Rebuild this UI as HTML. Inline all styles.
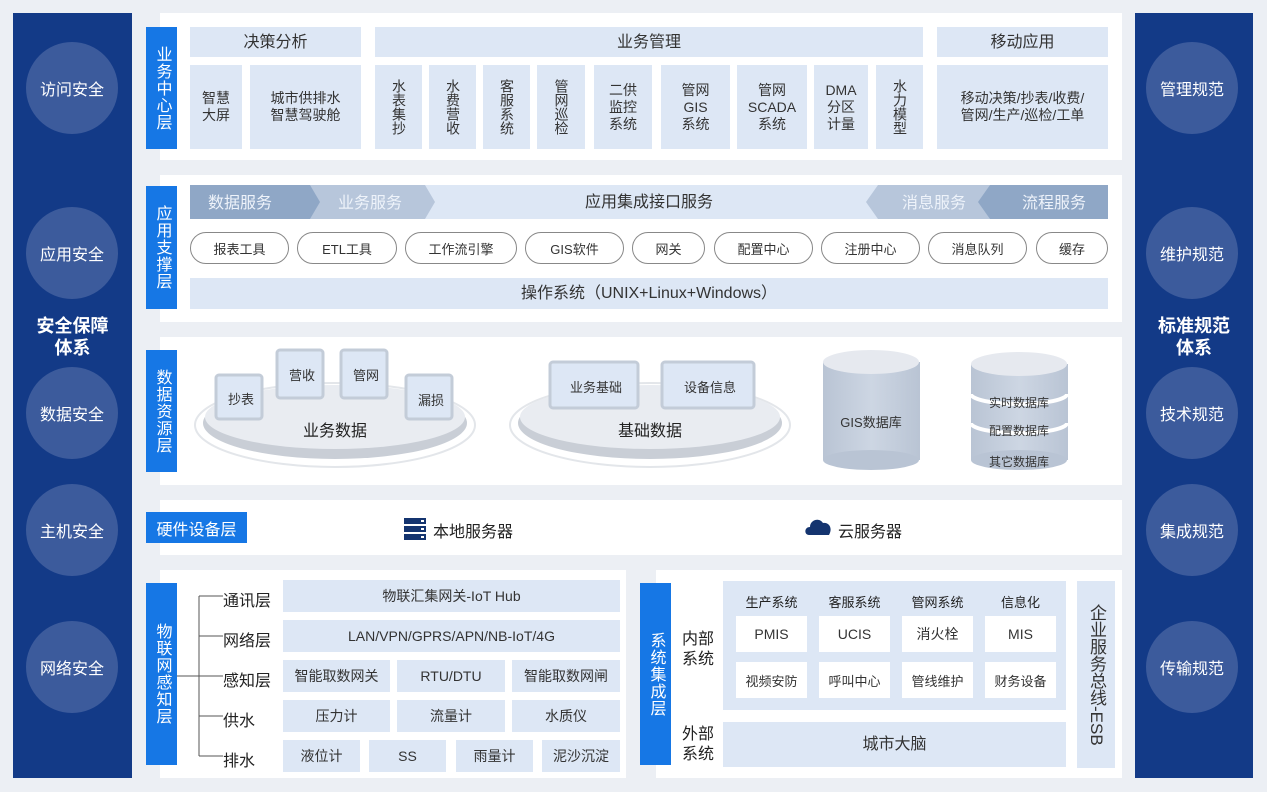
<!DOCTYPE html>
<html><head><meta charset="utf-8"><style>
*{margin:0;padding:0;box-sizing:border-box}
body{width:1267px;height:792px;background:#eceff4;position:relative;overflow:hidden;font-family:"Liberation Sans","Noto Sans CJK SC",sans-serif;color:#222}
.a{position:absolute}
.c{position:absolute;display:flex;align-items:center;justify-content:center;text-align:center}
.side{background:#133a87}
.circ{position:absolute;width:92px;height:92px;border-radius:50%;background:#3c5b9c;color:#fff;font-size:16px;display:flex;align-items:center;justify-content:center}
.panel{position:absolute;background:#fff}
.lab{position:absolute;background:#1677e5;color:#fff;font-size:16px;display:flex;align-items:center;justify-content:center;writing-mode:vertical-rl;text-orientation:upright;letter-spacing:1px}
.b{position:absolute;background:#dde7f5;display:flex;align-items:center;justify-content:center;text-align:center;font-size:14px;line-height:17px;color:#333}
.v{writing-mode:vertical-rl;text-orientation:upright;line-height:15px}
.pill{position:absolute;top:232px;height:32px;border:1px solid #888;border-radius:16px;background:#fff;font-size:13px;display:flex;align-items:center;justify-content:center;color:#333}
.w{position:absolute;background:#fff;display:flex;align-items:center;justify-content:center;font-size:14px;color:#333}
.t{position:absolute;font-size:16px;color:#222}
</style></head><body>
<!-- side bars -->
<div class="a side" style="left:13px;top:13px;width:119px;height:765px"></div>
<div class="a side" style="left:1135px;top:13px;width:118px;height:765px"></div>
<div class="circ" style="left:26px;top:42px">访问安全</div>
<div class="circ" style="left:26px;top:207px">应用安全</div>
<div class="circ" style="left:26px;top:367px">数据安全</div>
<div class="circ" style="left:26px;top:484px">主机安全</div>
<div class="circ" style="left:26px;top:621px">网络安全</div>
<div class="c" style="left:13px;top:312px;width:119px;height:50px;color:#fff;font-size:18px;font-weight:bold;line-height:22px">安全保障<br>体系</div>
<div class="circ" style="left:1146px;top:42px">管理规范</div>
<div class="circ" style="left:1146px;top:207px">维护规范</div>
<div class="circ" style="left:1146px;top:367px">技术规范</div>
<div class="circ" style="left:1146px;top:484px">集成规范</div>
<div class="circ" style="left:1146px;top:621px">传输规范</div>
<div class="c" style="left:1135px;top:312px;width:118px;height:50px;color:#fff;font-size:18px;font-weight:bold;line-height:22px">标准规范<br>体系</div>

<!-- panel 1 -->
<div class="panel" style="left:160px;top:13px;width:962px;height:147px"></div>
<div class="lab" style="left:146px;top:27px;width:31px;height:122px">业务中心层</div>
<div class="b" style="left:190px;top:27px;width:171px;height:30px;font-size:16px">决策分析</div>
<div class="b" style="left:375px;top:27px;width:548px;height:30px;font-size:16px">业务管理</div>
<div class="b" style="left:937px;top:27px;width:171px;height:30px;font-size:16px">移动应用</div>
<div class="b" style="left:190px;top:65px;width:52px;height:84px">智慧<br>大屏</div>
<div class="b" style="left:250px;top:65px;width:111px;height:84px">城市供排水<br>智慧驾驶舱</div>
<div class="b" style="left:375px;top:65px;width:47px;height:84px"><span class="v">水表集抄</span></div>
<div class="b" style="left:429px;top:65px;width:47px;height:84px"><span class="v">水费营收</span></div>
<div class="b" style="left:483px;top:65px;width:47px;height:84px"><span class="v">客服系统</span></div>
<div class="b" style="left:537px;top:65px;width:48px;height:84px"><span class="v">管网巡检</span></div>
<div class="b" style="left:594px;top:65px;width:58px;height:84px">二供<br>监控<br>系统</div>
<div class="b" style="left:661px;top:65px;width:69px;height:84px">管网<br>GIS<br>系统</div>
<div class="b" style="left:737px;top:65px;width:70px;height:84px">管网<br>SCADA<br>系统</div>
<div class="b" style="left:814px;top:65px;width:54px;height:84px">DMA<br>分区<br>计量</div>
<div class="b" style="left:876px;top:65px;width:47px;height:84px"><span class="v">水力模型</span></div>
<div class="b" style="left:937px;top:65px;width:171px;height:84px">移动决策/抄表/收费/<br>管网/生产/巡检/工单</div>

<!-- panel 2 -->
<div class="panel" style="left:160px;top:175px;width:962px;height:147px"></div>
<div class="lab" style="left:146px;top:186px;width:31px;height:123px">应用支撑层</div>
<div class="b" style="left:190px;top:185px;width:918px;height:34px;font-size:16px">应用集成接口服务</div>
<svg class="a" style="left:190px;top:185px" width="918" height="34">
<polygon points="110,0 235,0 245,17 235,34 110,34 120,17" fill="#b7c6db"/>
<polygon points="0,0 120,0 130,17 120,34 0,34" fill="#8fa7c6"/>
<polygon points="688,0 800,0 790,17 800,34 688,34 676,17" fill="#b7c6db"/>
<polygon points="800,0 918,0 918,34 800,34 788,17" fill="#8fa7c6"/>
<text x="50" y="23" font-size="16" fill="#eef3fa" text-anchor="middle" font-family="Liberation Sans,Noto Sans CJK SC,sans-serif">数据服务</text>
<text x="180" y="23" font-size="16" fill="#eef3fa" text-anchor="middle" font-family="Liberation Sans,Noto Sans CJK SC,sans-serif">业务服务</text>
<text x="744" y="23" font-size="16" fill="#eef3fa" text-anchor="middle" font-family="Liberation Sans,Noto Sans CJK SC,sans-serif">消息服务</text>
<text x="864" y="23" font-size="16" fill="#eef3fa" text-anchor="middle" font-family="Liberation Sans,Noto Sans CJK SC,sans-serif">流程服务</text>
</svg>
<div class="pill" style="left:190px;width:99px">报表工具</div>
<div class="pill" style="left:297px;width:100px">ETL工具</div>
<div class="pill" style="left:405px;width:112px">工作流引擎</div>
<div class="pill" style="left:525px;width:99px">GIS软件</div>
<div class="pill" style="left:632px;width:73px">网关</div>
<div class="pill" style="left:714px;width:99px">配置中心</div>
<div class="pill" style="left:821px;width:99px">注册中心</div>
<div class="pill" style="left:928px;width:99px">消息队列</div>
<div class="pill" style="left:1036px;width:72px">缓存</div>
<div class="b" style="left:190px;top:278px;width:918px;height:31px;font-size:16px">操作系统（UNIX+Linux+Windows）</div>

<!-- panel 3 -->
<div class="panel" style="left:160px;top:337px;width:962px;height:148px"></div>
<div class="lab" style="left:146px;top:350px;width:31px;height:122px">数据资源层</div>
<svg class="a" style="left:160px;top:337px" width="962" height="148" font-family="Liberation Sans,Noto Sans CJK SC,sans-serif">
<defs><linearGradient id="cy" x1="0" x2="1"><stop offset="0" stop-color="#b9c4d4"/><stop offset=".5" stop-color="#cdd6e3"/><stop offset="1" stop-color="#b9c4d4"/></linearGradient></defs>
<ellipse cx="175" cy="88" rx="140" ry="42" fill="none" stroke="#e3e6ea" stroke-width="2"/>
<ellipse cx="175" cy="86" rx="132" ry="36" fill="#c9ced6"/>
<ellipse cx="175" cy="80" rx="130" ry="32" fill="#e9ecf1"/>
<ellipse cx="490" cy="88" rx="140" ry="42" fill="none" stroke="#e3e6ea" stroke-width="2"/>
<ellipse cx="490" cy="86" rx="132" ry="36" fill="#c9ced6"/>
<ellipse cx="490" cy="80" rx="130" ry="32" fill="#e9ecf1"/>
<g fill="#dde7f5" stroke="#c3ccd8" stroke-width="3">
<rect x="56" y="38" width="46" height="44" rx="3"/>
<rect x="117" y="13" width="46" height="48" rx="3"/>
<rect x="181" y="13" width="46" height="48" rx="3"/>
<rect x="246" y="38" width="46" height="44" rx="3"/>
<rect x="390" y="25" width="88" height="46" rx="3"/>
<rect x="502" y="25" width="92" height="46" rx="3"/>
</g>
<g font-size="13" fill="#333" text-anchor="middle">
<text x="81" y="67">抄表</text><text x="142" y="43">营收</text><text x="206" y="43">管网</text><text x="271" y="68">漏损</text>
<text x="436" y="55">业务基础</text><text x="550" y="55">设备信息</text>
</g>
<text x="175" y="99" font-size="16" fill="#222" text-anchor="middle">业务数据</text>
<text x="490" y="99" font-size="16" fill="#222" text-anchor="middle">基础数据</text>
<rect x="663" y="25" width="97" height="98" fill="url(#cy)"/>
<ellipse cx="711" cy="123" rx="48" ry="10" fill="#b9c4d4"/>
<ellipse cx="711" cy="25" rx="48" ry="12" fill="#e6e9ef"/>
<text x="711" y="90" font-size="13" fill="#333" text-anchor="middle">GIS数据库</text>
<rect x="811" y="27" width="97" height="96" fill="url(#cy)"/>
<ellipse cx="859" cy="123" rx="48" ry="10" fill="#b9c4d4"/>
<path d="M811,57 A48,10 0 0 0 907,57" fill="none" stroke="#fff" stroke-width="4"/>
<path d="M811,86 A48,10 0 0 0 907,86" fill="none" stroke="#fff" stroke-width="4"/>
<ellipse cx="859" cy="27" rx="48" ry="12" fill="#e6e9ef"/>
<g font-size="12" fill="#333" text-anchor="middle"><text x="859" y="70">实时数据库</text><text x="859" y="98">配置数据库</text><text x="859" y="129">其它数据库</text></g>
</svg>

<!-- panel 4 -->
<div class="panel" style="left:160px;top:500px;width:962px;height:55px"></div>
<div class="c" style="left:146px;top:512px;width:101px;height:31px;background:#1677e5;color:#fff;font-size:16px">硬件设备层</div>
<svg class="a" style="left:404px;top:518px" width="22" height="22"><rect x="0" y="0" width="22" height="6" fill="#14346f"/><rect x="0" y="8" width="22" height="6" fill="#14346f"/><rect x="0" y="16" width="22" height="6" fill="#14346f"/><rect x="17" y="2" width="3" height="2" fill="#fff"/><rect x="17" y="10" width="3" height="2" fill="#fff"/><rect x="17" y="18" width="3" height="2" fill="#fff"/></svg>
<div class="t" style="left:433px;top:518px">本地服务器</div>
<svg class="a" style="left:805px;top:516px" width="28" height="20"><path d="M4,19 C-1,19 -1,11 5,11 C5,4 14,1 18,7 C24,6 28,12 24,19 Z" fill="#14346f"/></svg>
<div class="t" style="left:838px;top:518px">云服务器</div>

<!-- panel 5 left -->
<div class="panel" style="left:160px;top:570px;width:466px;height:208px"></div>
<div class="lab" style="left:146px;top:583px;width:31px;height:182px">物联网感知层</div>
<svg class="a" style="left:177px;top:590px" width="50" height="180"><g stroke="#555" fill="none" stroke-width="1"><path d="M22,6 V166"/><path d="M22,6 H46 M22,46 H46 M0,86 H46 M22,126 H46 M22,166 H46"/></g></svg>
<div class="t" style="left:223px;top:587px">通讯层</div>
<div class="t" style="left:223px;top:627px">网络层</div>
<div class="t" style="left:223px;top:667px">感知层</div>
<div class="t" style="left:223px;top:707px">供水</div>
<div class="t" style="left:223px;top:747px">排水</div>
<div class="b" style="left:283px;top:580px;width:337px;height:32px">物联汇集网关-IoT Hub</div>
<div class="b" style="left:283px;top:620px;width:337px;height:32px">LAN/VPN/GPRS/APN/NB-IoT/4G</div>
<div class="b" style="left:283px;top:660px;width:107px;height:32px">智能取数网关</div>
<div class="b" style="left:397px;top:660px;width:108px;height:32px">RTU/DTU</div>
<div class="b" style="left:512px;top:660px;width:108px;height:32px">智能取数网闸</div>
<div class="b" style="left:283px;top:700px;width:107px;height:32px">压力计</div>
<div class="b" style="left:397px;top:700px;width:108px;height:32px">流量计</div>
<div class="b" style="left:512px;top:700px;width:108px;height:32px">水质仪</div>
<div class="b" style="left:283px;top:740px;width:77px;height:32px">液位计</div>
<div class="b" style="left:369px;top:740px;width:77px;height:32px">SS</div>
<div class="b" style="left:456px;top:740px;width:77px;height:32px">雨量计</div>
<div class="b" style="left:542px;top:740px;width:78px;height:32px">泥沙沉淀</div>

<!-- panel 5 right -->
<div class="panel" style="left:656px;top:570px;width:466px;height:208px"></div>
<div class="lab" style="left:640px;top:583px;width:31px;height:182px">系统集成层</div>
<div class="t" style="left:682px;top:630px;line-height:20px">内部<br>系统</div>
<div class="t" style="left:682px;top:725px;line-height:20px">外部<br>系统</div>
<div class="b" style="left:723px;top:581px;width:343px;height:129px"></div>
<div class="t" style="left:736px;top:592px;width:71px;font-size:13px;text-align:center">生产系统</div>
<div class="t" style="left:819px;top:592px;width:71px;font-size:13px;text-align:center">客服系统</div>
<div class="t" style="left:902px;top:592px;width:71px;font-size:13px;text-align:center">管网系统</div>
<div class="t" style="left:985px;top:592px;width:71px;font-size:13px;text-align:center">信息化</div>
<div class="w" style="left:736px;top:616px;width:71px;height:36px">PMIS</div>
<div class="w" style="left:819px;top:616px;width:71px;height:36px">UCIS</div>
<div class="w" style="left:902px;top:616px;width:71px;height:36px">消火栓</div>
<div class="w" style="left:985px;top:616px;width:71px;height:36px">MIS</div>
<div class="w" style="left:736px;top:662px;width:71px;height:36px;font-size:13px">视频安防</div>
<div class="w" style="left:819px;top:662px;width:71px;height:36px;font-size:13px">呼叫中心</div>
<div class="w" style="left:902px;top:662px;width:71px;height:36px;font-size:13px">管线维护</div>
<div class="w" style="left:985px;top:662px;width:71px;height:36px;font-size:13px">财务设备</div>
<div class="b" style="left:723px;top:722px;width:343px;height:45px;font-size:16px">城市大脑</div>
<div class="b" style="left:1077px;top:581px;width:38px;height:187px;font-size:17px"><span style="writing-mode:vertical-rl;line-height:20px">企业服务总线-ESB</span></div>
</body></html>
